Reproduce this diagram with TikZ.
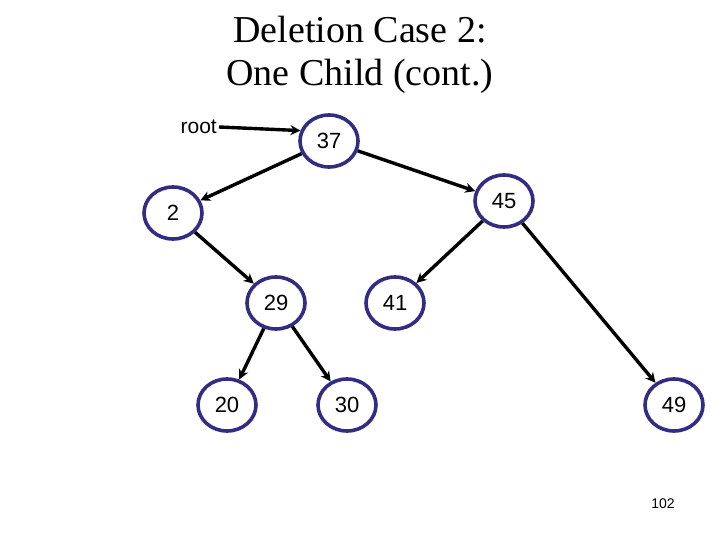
\documentclass[tikz,border=0pt]{standalone}
\usepackage{fontspec}
\setmainfont{Liberation Serif}
\newfontfamily\arial{Liberation Sans}
\usetikzlibrary{shapes.geometric,arrows.meta}
\begin{document}
\begin{tikzpicture}[x=1pt,y=-1pt,
  bst/.style={ellipse,draw={rgb,255:red,50;green,45;blue,130},line width=3.6pt,minimum width=58pt,minimum height=52pt,inner sep=0pt,font=\arial\fontsize{22}{22}\selectfont},
  edge/.style={line width=3.4pt,-{Stealth[length=10pt,width=10pt]}}]
\useasboundingbox (0,0) rectangle (720,540);
\node[font=\fontsize{38}{38}\selectfont] at (360,30) {Deletion Case 2:};
\node[font=\fontsize{38}{38}\selectfont] at (360,76) {One Child (cont.)};
\node (n37) [bst] at (329,141) {37};
\node (n2) [bst] at (173,213) {2};
\node (n45) [bst] at (504,201) {45};
\node (n29) [bst] at (276,303) {29};
\node (n41) [bst] at (395,303) {41};
\node (n20) [bst] at (227,405) {20};
\node (n30) [bst] at (347,405) {30};
\node (n49) [bst] at (674,405) {49};
\node (root) [font=\arial\fontsize{21}{21}\selectfont,anchor=east,inner sep=2pt] at (219,127) {root};
\draw[edge] (root.east) -- (n37.160);
\draw[edge] (n37) -- (n2);
\draw[edge] (n37) -- (n45);
\draw[edge] (n2) -- (n29);
\draw[edge] (n45) -- (n41);
\draw[edge] (n45) -- (n49);
\draw[edge] (n29) -- (n20);
\draw[edge] (n29) -- (n30);
\node (pg) [font=\arial\fontsize{14}{14}\selectfont] at (663,504) {102};
\end{tikzpicture}
\end{document}
